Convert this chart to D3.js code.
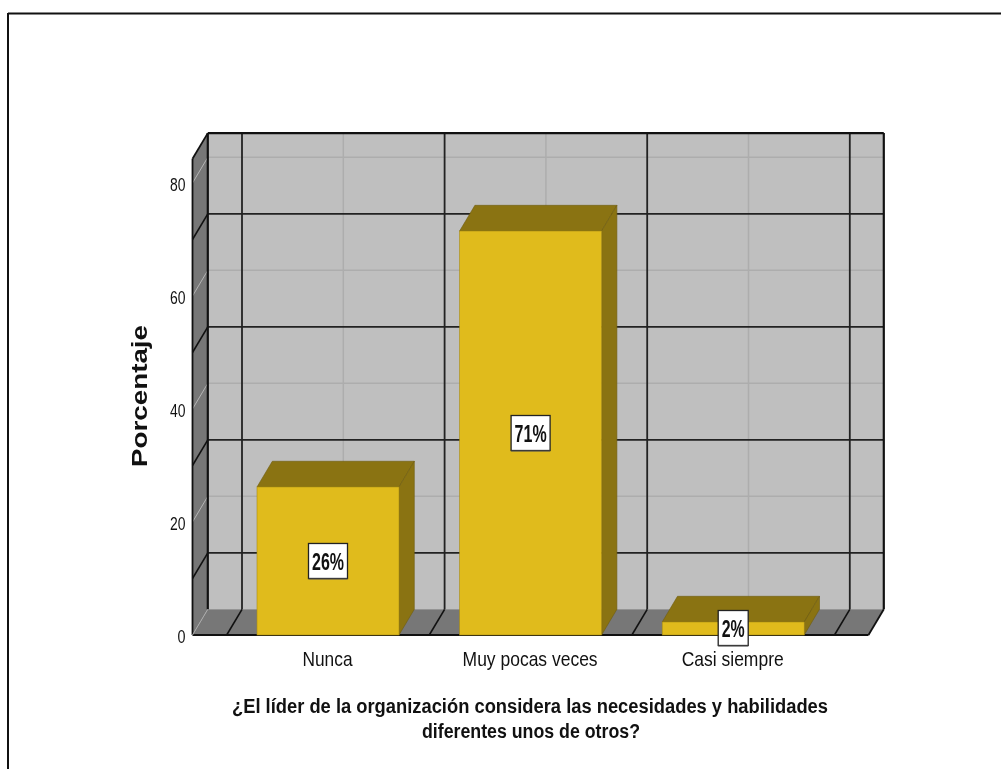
<!DOCTYPE html>
<html><head><meta charset="utf-8">
<script src="https://cdn.jsdelivr.net/npm/d3@7"></script>
<style>html,body{margin:0;background:#fff;overflow:hidden}svg{display:block;filter:blur(.35px)}text{fill:#111}</style></head>
<body><svg id="c" width="1001" height="769"></svg>
<script>
const categories = ["Nunca", "Muy pocas veces", "Casi siempre"];
const values = [26.2, 71.5, 2.3];
const valueLabels = ["26%", "71%", "2%"];
const yTicks = [0, 20, 40, 60, 80];
const yGrid = [10, 30, 50, 70];
const yFaint = [20, 40, 60, 80];
const xTitle = ["¿El líder de la organización considera las necesidades y habilidades", "diferentes unos de otros?"];
const yTitle = "Porcentaje";

const svg = d3.select("#c");
const W = 1001, H = 769;
const dx = 15.3, dy = -25.7;
const y = d3.scaleLinear().domain([0, 80]).range([635, 183]);
const yTop = 158.8;
const x = d3.scaleBand().domain(categories).range([226.7, 834.5]);
const x0 = 192.5, x1 = 868.5;
const barW = 142;
const pts = a => a.map(p => p.join(",")).join(" ");
const sans = "'Liberation Sans',Arial,sans-serif";

// page frame: top and left rules only
svg.append("line").attr("x1", 8).attr("x2", W).attr("y1", 13.5).attr("y2", 13.5).attr("stroke", "#111").attr("stroke-width", 2);
svg.append("line").attr("x1", 8).attr("x2", 8).attr("y1", 13).attr("y2", H).attr("stroke", "#111").attr("stroke-width", 2);

// back wall, side wall, floor
svg.append("rect").attr("x", x0 + dx).attr("y", yTop + dy).attr("width", x1 - x0).attr("height", y(0) - yTop)
  .attr("fill", "#bfbfbf");
svg.append("polygon").attr("points", pts([[x0, y(0)], [x0 + dx, y(0) + dy], [x0 + dx, yTop + dy], [x0, yTop]]))
  .attr("fill", "#777");
svg.append("polygon").attr("points", pts([[x0, y(0)], [x1, y(0)], [x1 + dx, y(0) + dy], [x0 + dx, y(0) + dy]]))
  .attr("fill", "#777");

// faint gridlines
const g = svg.append("g");
yFaint.forEach(v => {
  g.append("line").attr("x1", x0 + dx).attr("x2", x1 + dx).attr("y1", y(v) + dy).attr("y2", y(v) + dy).attr("stroke", "#adadad").attr("stroke-width", 1.5);
  g.append("line").attr("x1", x0).attr("x2", x0 + dx).attr("y1", y(v)).attr("y2", y(v) + dy).attr("stroke", "#b5b5b5").attr("stroke-width", 1);
});
categories.forEach(c => {
  const cx = x(c) + x.bandwidth() / 2 + dx;
  g.append("line").attr("x1", cx).attr("x2", cx).attr("y1", yTop + dy).attr("y2", y(0) + dy).attr("stroke", "#adadad").attr("stroke-width", 1.5);
});
// strong gridlines
yGrid.forEach(v => {
  g.append("line").attr("x1", x0 + dx).attr("x2", x1 + dx).attr("y1", y(v) + dy).attr("y2", y(v) + dy).attr("stroke", "#222").attr("stroke-width", 1.8);
  g.append("line").attr("x1", x0).attr("x2", x0 + dx).attr("y1", y(v)).attr("y2", y(v) + dy).attr("stroke", "#111").attr("stroke-width", 1.6);
});
const bounds = categories.map(c => x(c)).concat([x.range()[1]]);
bounds.forEach(b => {
  g.append("line").attr("x1", b + dx).attr("x2", b + dx).attr("y1", yTop + dy).attr("y2", y(0) + dy).attr("stroke", "#222").attr("stroke-width", 1.8);
  g.append("line").attr("x1", b).attr("x2", b + dx).attr("y1", y(0)).attr("y2", y(0) + dy).attr("stroke", "#111").attr("stroke-width", 1.6);
});
// frame
const line = (a, b, w) => svg.append("line").attr("x1", a[0]).attr("y1", a[1]).attr("x2", b[0]).attr("y2", b[1]).attr("stroke", "#111").attr("stroke-width", w);
line([x0 + dx, yTop + dy], [x1 + dx, yTop + dy], 2.4);
line([x1 + dx, yTop + dy], [x1 + dx, y(0) + dy], 2.2);
line([x0 + dx, yTop + dy], [x0 + dx, y(0) + dy], 2.2);
line([x0, yTop], [x0, y(0)], 1.8);
line([x0, yTop], [x0 + dx, yTop + dy], 1.8);
line([x0, y(0)], [x1, y(0)], 2.2);
line([x1, y(0)], [x1 + dx, y(0) + dy], 1.8);
svg.append("line").attr("x1", x0).attr("y1", y(0)).attr("x2", x0 + dx).attr("y2", y(0) + dy).attr("stroke", "#aaa").attr("stroke-width", 1);

// bars
const bars = svg.append("g").selectAll("g").data(categories).join("g");
bars.each(function (c, i) {
  const b = d3.select(this);
  const l = x(c) + x.bandwidth() / 2 - barW / 2, r = l + barW, t = y(values[i]), f = y(0);
  b.append("polygon").attr("points", pts([[l, t], [r, t], [r + dx, t + dy], [l + dx, t + dy]])).attr("fill", "#8a7312").attr("stroke", "#6f5d10").attr("stroke-width", .6);
  b.append("polygon").attr("points", pts([[r, t], [r + dx, t + dy], [r + dx, f + dy], [r, f]])).attr("fill", "#8a7312").attr("stroke", "#6f5d10").attr("stroke-width", .6);
  b.append("rect").attr("x", l).attr("y", t).attr("width", barW).attr("height", f - t).attr("fill", "#e0bb1c").attr("stroke", "#a88c14").attr("stroke-width", .6);
});

// value labels
categories.forEach((c, i) => {
  const cx = x(c) + x.bandwidth() / 2;
  const cy = i === 2 ? 628 : y(values[i] / 2);
  const w = i === 2 ? 30 : 39;
  svg.append("rect").attr("x", cx - w / 2).attr("y", cy - 17.5).attr("width", w).attr("height", 35).attr("fill", "#fff").attr("stroke", "#222").attr("stroke-width", 1.3);
  svg.append("line").attr("x1", cx - w / 2).attr("x2", cx + w / 2).attr("y1", cy + 18).attr("y2", cy + 18).attr("stroke", "#555").attr("stroke-width", 1);
  svg.append("text").attr("x", cx - (i === 2 ? 11.5 : 16)).attr("y", cy + 9).attr("textLength", i === 2 ? 23 : 32).attr("lengthAdjust", "spacingAndGlyphs")
    .attr("font-family", sans).attr("font-weight", "bold").attr("font-size", 24).text(valueLabels[i]);
});

// tick labels
yTicks.forEach(v => {
  const w = v === 0 ? 8 : 15.5;
  svg.append("text").attr("x", 185.5 - w).attr("y", y(v) + 8).attr("textLength", w).attr("lengthAdjust", "spacingAndGlyphs").attr("font-family", sans).attr("font-size", 19).text(v);
});
const catW = [50, 135, 102];
categories.forEach((c, i) => {
  svg.append("text").attr("x", x(c) + x.bandwidth() / 2 - 0.5 - catW[i] / 2).attr("y", 666).attr("textLength", catW[i]).attr("lengthAdjust", "spacingAndGlyphs").attr("font-family", sans).attr("font-size", 21).text(c);
});
svg.append("text").attr("transform", "translate(146.5,467) rotate(-90)").attr("textLength", 142).attr("lengthAdjust", "spacingAndGlyphs")
  .attr("font-family", sans).attr("font-weight", "bold").attr("font-size", 22).text(yTitle);
const titleW = [596, 218], titleX = [232, 422], titleY = [713, 738];
xTitle.forEach((t, i) => {
  svg.append("text").attr("x", titleX[i]).attr("y", titleY[i]).attr("textLength", titleW[i]).attr("lengthAdjust", "spacingAndGlyphs")
    .attr("font-family", sans).attr("font-weight", "bold").attr("font-size", 20).text(t);
});
</script></body></html>
